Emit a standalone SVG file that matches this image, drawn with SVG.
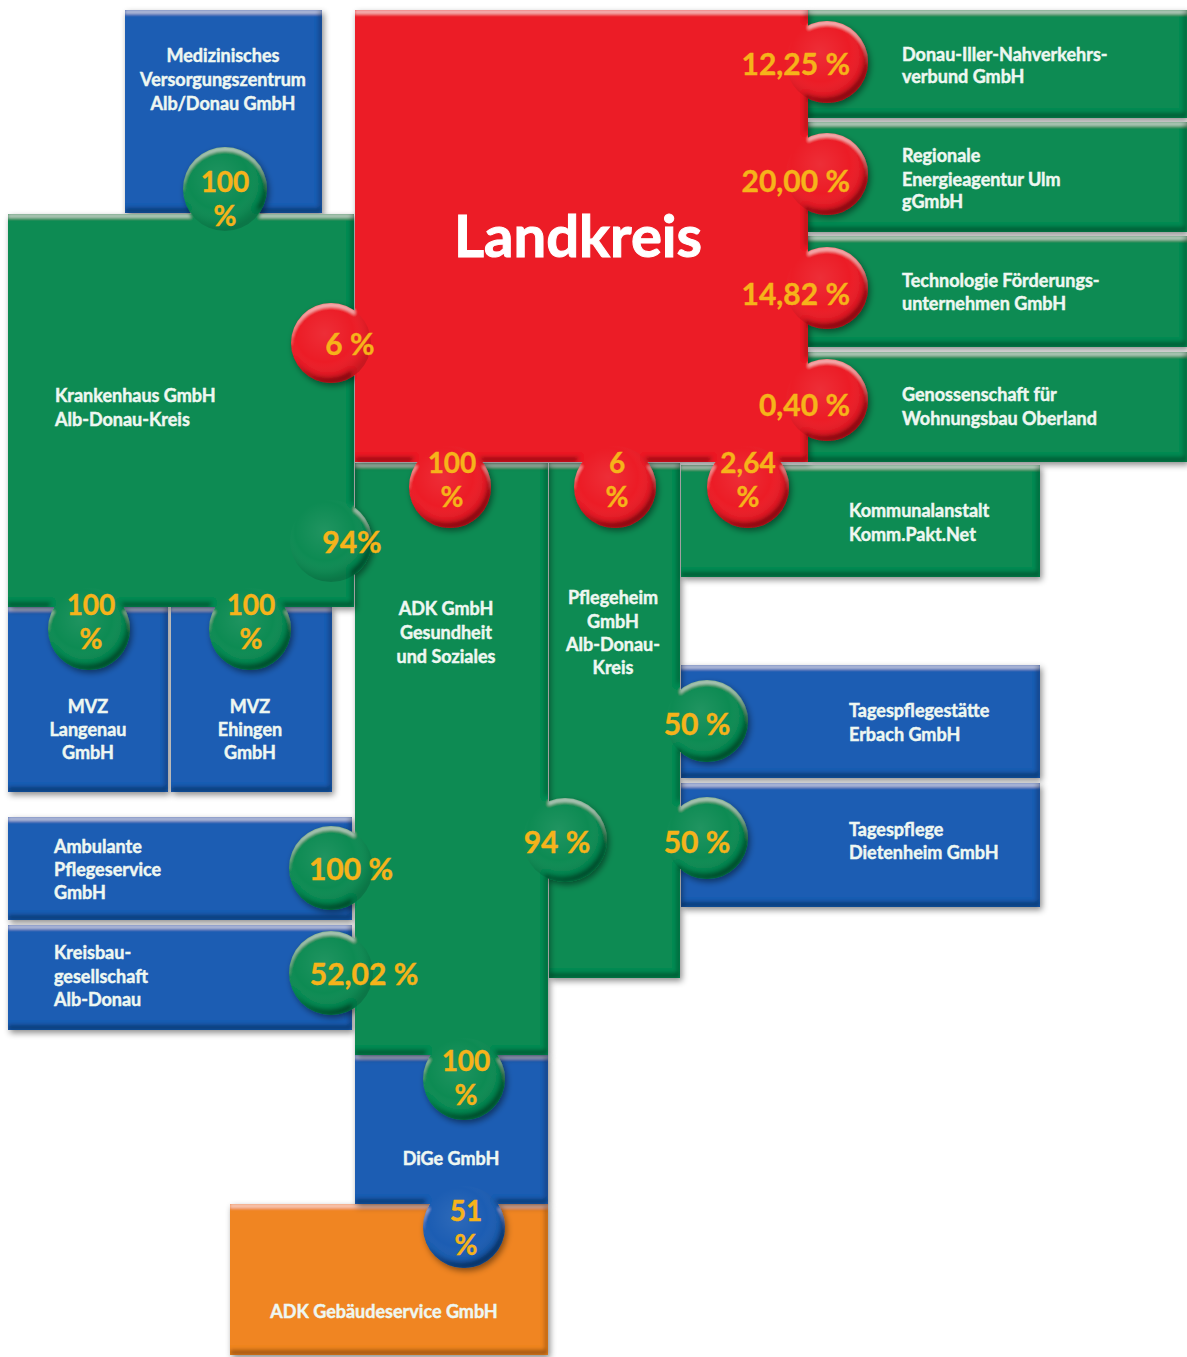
<svg xmlns="http://www.w3.org/2000/svg" width="1187" height="1357" viewBox="0 0 1187 1357">
  <defs>
    <style>
      .green { fill: #0b8b52; }
      .red { fill: #ec1d25; }
      .blue { fill: #1b5db3; }
      .orange { fill: #f08524; }
      .lbl { font-family: Lato, "Open Sans", "Liberation Sans", sans-serif; font-weight: 700; font-size: 18px; fill: #eef7f1; stroke: #eef7f1; stroke-width: 0.45px; }
      .pct { font-family: Lato, "Open Sans", "Liberation Sans", sans-serif; font-weight: 700; font-size: 30px; fill: #f6b31a; stroke: #f6b31a; stroke-width: 0.4px; }
      .stk { font-size: 28px; }
      .mid { text-anchor: middle; }
      .end { text-anchor: end; }
      .knob { fill: url(#knobShade); }
      .big { font-family: Lato, "Open Sans", "Liberation Sans", sans-serif; font-weight: 700; font-size: 58px; fill: #ffffff; stroke: #ffffff; stroke-width: 1px; text-anchor: middle; }
    </style>
    <!-- raised puzzle-piece look: light top edge, dark lower/right edge, soft drop shadow -->
    <filter id="bevel" filterUnits="userSpaceOnUse" x="0" y="0" width="1187" height="1357">
      <feOffset in="SourceAlpha" dx="0" dy="4" result="offDown"/>
      <feComposite in="SourceAlpha" in2="offDown" operator="out" result="topBand"/>
      <feGaussianBlur in="topBand" stdDeviation="1.5" result="topBlur"/>
      <feFlood flood-color="#ffffff" flood-opacity="0.45"/>
      <feComposite in2="topBlur" operator="in"/>
      <feComposite in2="SourceAlpha" operator="in" result="hi"/>
      <feOffset in="SourceAlpha" dx="-3" dy="-5" result="offUp"/>
      <feComposite in="SourceAlpha" in2="offUp" operator="out" result="botBand"/>
      <feGaussianBlur in="botBand" stdDeviation="2" result="botBlur"/>
      <feFlood flood-color="#000000" flood-opacity="0.65"/>
      <feComposite in2="botBlur" operator="in"/>
      <feComposite in2="SourceAlpha" operator="in" result="lo"/>
      <feGaussianBlur in="SourceAlpha" stdDeviation="3" result="sb"/>
      <feOffset in="sb" dx="2" dy="3" result="so"/>
      <feFlood flood-color="#000000" flood-opacity="0.45"/>
      <feComposite in2="so" operator="in" result="shadow"/>
      <feMerge>
        <feMergeNode in="shadow"/>
        <feMergeNode in="SourceGraphic"/>
        <feMergeNode in="hi"/>
        <feMergeNode in="lo"/>
      </feMerge>
    </filter>
    <radialGradient id="knobShade" cx="0.42" cy="0.38" r="0.6">
      <stop offset="0" stop-color="#ffffff" stop-opacity="0.08"/>
      <stop offset="0.6" stop-color="#ffffff" stop-opacity="0"/>
      <stop offset="0.9" stop-color="#000000" stop-opacity="0.08"/>
      <stop offset="1" stop-color="#000000" stop-opacity="0.15"/>
    </radialGradient>
  </defs>

  <rect width="1187" height="1357" fill="#ffffff"/>

  <!-- pieces are stacked so that each knob lies over the piece it points into -->
  <g id="adk-gebaeudeservice">
    <path class="orange" filter="url(#bevel)" d="M230 1204 H548 V1355 H230 Z"/>
    <text class="lbl mid" x="384" y="1318">ADK Gebäudeservice GmbH</text>
  </g>

  <g id="dige">
    <path class="blue" filter="url(#bevel)" d="M355 1055 H548 V1204 H355 Z M423 1227 a41 41 0 1 1 82 0 a41 41 0 1 1 -82 0 Z"/>
    <circle class="knob" cx="464" cy="1227" r="41"/>
    <text class="lbl mid" x="451" y="1165">DiGe GmbH</text>
    <text class="pct stk mid" x="466" y="1221">51<tspan x="466" dy="34">%</tspan></text>
  </g>

  <g id="tagespflegestaette-erbach">
    <path class="blue" filter="url(#bevel)" d="M681 665 H1040 V778 H681 Z"/>
    <text class="lbl" x="849" y="717">Tagespflegestätte<tspan x="849" dy="24">Erbach GmbH</tspan></text>
  </g>

  <g id="tagespflege-dietenheim">
    <path class="blue" filter="url(#bevel)" d="M681 783 H1040 V907 H681 Z"/>
    <text class="lbl" x="849" y="836">Tagespflege<tspan x="849" dy="23">Dietenheim GmbH</tspan></text>
  </g>

  <g id="pflegeheim">
    <path class="green" filter="url(#bevel)" d="M549 463 H680 V978 H549 Z M666 721 a41 41 0 1 1 82 0 a41 41 0 1 1 -82 0 Z M666 838 a41 41 0 1 1 82 0 a41 41 0 1 1 -82 0 Z"/>
    <circle class="knob" cx="707" cy="721" r="41"/>
    <circle class="knob" cx="707" cy="838" r="41"/>
    <text class="lbl mid" x="613" y="604">Pflegeheim<tspan x="613" dy="24">GmbH</tspan><tspan x="613" dy="23">Alb-Donau-</tspan><tspan x="613" dy="23">Kreis</tspan></text>
    <text class="pct mid" x="697" y="735">50 %</text>
    <text class="pct mid" x="697" y="853">50 %</text>
  </g>

  <g id="ambulante-pflegeservice">
    <path class="blue" filter="url(#bevel)" d="M8 817 H352 V920 H8 Z"/>
    <text class="lbl" x="54" y="853">Ambulante<tspan x="54" dy="23">Pflegeservice</tspan><tspan x="54" dy="23">GmbH</tspan></text>
  </g>

  <g id="kreisbaugesellschaft">
    <path class="blue" filter="url(#bevel)" d="M8 925 H352 V1030 H8 Z"/>
    <text class="lbl" x="54" y="959">Kreisbau-<tspan x="54" dy="24">gesellschaft</tspan><tspan x="54" dy="23">Alb-Donau</tspan></text>
  </g>

  <g id="adk-gmbh">
    <path class="green" filter="url(#bevel)" d="M355 463 H548 V1055 H355 Z M289 868 a42 42 0 1 1 84 0 a42 42 0 1 1 -84 0 Z M289 973 a42 42 0 1 1 84 0 a42 42 0 1 1 -84 0 Z M523 840 a42 42 0 1 1 84 0 a42 42 0 1 1 -84 0 Z M423 1079 a41 41 0 1 1 82 0 a41 41 0 1 1 -82 0 Z"/>
    <circle class="knob" cx="331" cy="868" r="42"/>
    <circle class="knob" cx="331" cy="973" r="42"/>
    <circle class="knob" cx="565" cy="840" r="42"/>
    <circle class="knob" cx="464" cy="1079" r="41"/>
    <text class="lbl mid" x="446" y="615">ADK GmbH<tspan x="446" dy="24">Gesundheit</tspan><tspan x="446" dy="24">und Soziales</tspan></text>
    <text class="pct mid" x="351" y="880">100 %</text>
    <text class="pct mid" x="364" y="985">52,02 %</text>
    <text class="pct mid" x="557" y="853">94 %</text>
    <text class="pct stk mid" x="466" y="1071">100<tspan x="466" dy="34">%</tspan></text>
  </g>

  <g id="mvz-langenau">
    <path class="blue" filter="url(#bevel)" d="M8 607 H168 V792 H8 Z"/>
    <text class="lbl mid" x="88" y="713">MVZ<tspan x="88" dy="23">Langenau</tspan><tspan x="88" dy="23">GmbH</tspan></text>
  </g>

  <g id="mvz-ehingen">
    <path class="blue" filter="url(#bevel)" d="M171 607 H332 V792 H171 Z"/>
    <text class="lbl mid" x="250" y="713">MVZ<tspan x="250" dy="23">Ehingen</tspan><tspan x="250" dy="23">GmbH</tspan></text>
  </g>

  <g id="medizinisches-versorgungszentrum">
    <path class="blue" filter="url(#bevel)" d="M125 10 H322 V213 H125 Z"/>
    <text class="lbl mid" x="223" y="62">Medizinisches<tspan x="223" dy="24">Versorgungszentrum</tspan><tspan x="223" dy="24">Alb/Donau GmbH</tspan></text>
  </g>

  <g id="krankenhaus">
    <path class="green" filter="url(#bevel)" d="M8 214 H354 V607 H8 Z M183 189 a42 42 0 1 1 84 0 a42 42 0 1 1 -84 0 Z M290 541 a41 41 0 1 1 82 0 a41 41 0 1 1 -82 0 Z M48 629 a41 41 0 1 1 82 0 a41 41 0 1 1 -82 0 Z M209 629 a41 41 0 1 1 82 0 a41 41 0 1 1 -82 0 Z"/>
    <circle class="knob" cx="225" cy="189" r="42"/>
    <circle class="knob" cx="331" cy="541" r="41"/>
    <circle class="knob" cx="89" cy="629" r="41"/>
    <circle class="knob" cx="250" cy="629" r="41"/>
    <text class="lbl" x="55" y="402">Krankenhaus GmbH<tspan x="55" dy="24">Alb-Donau-Kreis</tspan></text>
    <text class="pct stk mid" x="225" y="192">100<tspan x="225" dy="34">%</tspan></text>
    <text class="pct mid" x="352" y="553">94%</text>
    <text class="pct stk mid" x="91" y="615">100<tspan x="91" dy="34">%</tspan></text>
    <text class="pct stk mid" x="251" y="615">100<tspan x="251" dy="34">%</tspan></text>
  </g>

  <g id="donau-iller-nahverkehrsverbund">
    <path class="green" filter="url(#bevel)" d="M808 10 H1187 V118 H808 Z"/>
    <text class="lbl" x="902" y="61">Donau-Iller-Nahverkehrs-<tspan x="902" dy="22">verbund GmbH</tspan></text>
  </g>

  <g id="energieagentur-ulm">
    <path class="green" filter="url(#bevel)" d="M808 122 H1187 V232 H808 Z"/>
    <text class="lbl" x="902" y="162">Regionale<tspan x="902" dy="24">Energieagentur Ulm</tspan><tspan x="902" dy="22">gGmbH</tspan></text>
  </g>

  <g id="technologie-foerderung">
    <path class="green" filter="url(#bevel)" d="M808 236 H1187 V347 H808 Z"/>
    <text class="lbl" x="902" y="287">Technologie Förderungs-<tspan x="902" dy="23">unternehmen GmbH</tspan></text>
  </g>

  <g id="genossenschaft-oberland">
    <path class="green" filter="url(#bevel)" d="M808 352 H1187 V462 H808 Z"/>
    <text class="lbl" x="902" y="401">Genossenschaft für<tspan x="902" dy="24">Wohnungsbau Oberland</tspan></text>
  </g>

  <g id="kommunalanstalt">
    <path class="green" filter="url(#bevel)" d="M681 465 H1040 V577 H681 Z"/>
    <text class="lbl" x="849" y="517">Kommunalanstalt<tspan x="849" dy="24">Komm.Pakt.Net</tspan></text>
  </g>

  <g id="landkreis">
    <path class="red" filter="url(#bevel)" d="M355 10 H808 V462 H355 Z M786 62 a41 41 0 1 1 82 0 a41 41 0 1 1 -82 0 Z M786 174 a41 41 0 1 1 82 0 a41 41 0 1 1 -82 0 Z M786 288 a41 41 0 1 1 82 0 a41 41 0 1 1 -82 0 Z M786 400 a41 41 0 1 1 82 0 a41 41 0 1 1 -82 0 Z M291 343 a40 40 0 1 1 80 0 a40 40 0 1 1 -80 0 Z M409 487 a41 41 0 1 1 82 0 a41 41 0 1 1 -82 0 Z M574 487 a41 41 0 1 1 82 0 a41 41 0 1 1 -82 0 Z M707 487 a41 41 0 1 1 82 0 a41 41 0 1 1 -82 0 Z"/>
    <circle class="knob" cx="827" cy="62" r="41"/>
    <circle class="knob" cx="827" cy="174" r="41"/>
    <circle class="knob" cx="827" cy="288" r="41"/>
    <circle class="knob" cx="827" cy="400" r="41"/>
    <circle class="knob" cx="331" cy="343" r="40"/>
    <circle class="knob" cx="450" cy="487" r="41"/>
    <circle class="knob" cx="615" cy="487" r="41"/>
    <circle class="knob" cx="748" cy="487" r="41"/>
    <text class="big" x="578" y="257">Landkreis</text>
    <text class="pct end" x="850" y="75">12,25 %</text>
    <text class="pct end" x="850" y="192">20,00 %</text>
    <text class="pct end" x="850" y="305">14,82 %</text>
    <text class="pct end" x="850" y="416">0,40 %</text>
    <text class="pct mid" x="350" y="355">6 %</text>
    <text class="pct stk mid" x="452" y="473">100<tspan x="452" dy="34">%</tspan></text>
    <text class="pct stk mid" x="617" y="473">6<tspan x="617" dy="34">%</tspan></text>
    <text class="pct stk mid" x="748" y="473">2,64<tspan x="748" dy="34">%</tspan></text>
  </g>
</svg>
